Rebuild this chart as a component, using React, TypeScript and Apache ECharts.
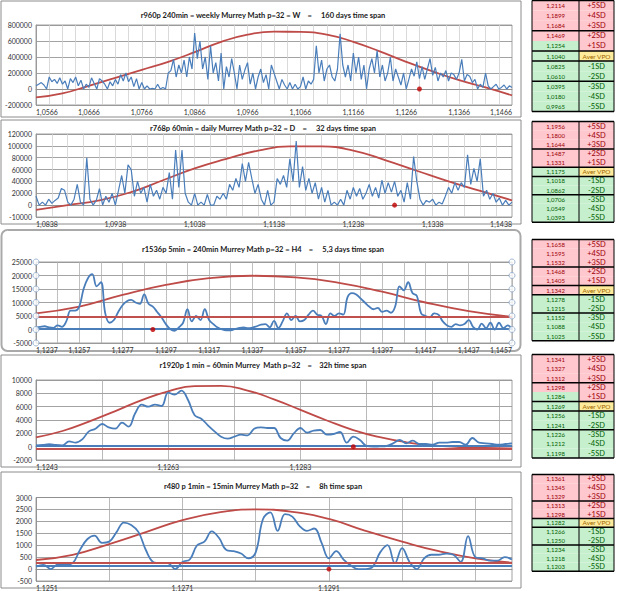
import React, { useEffect, useRef } from "react";
import * as echarts from "echarts";

// ---------- DATA ----------
const currentPrice = 1.1291;

const titles = [
  "r960p 240min = weekly Murrey Math p=32 = W    =     160 days time span",
  "r768p 60min = daily Murrey Math p=32 = D    =     32 days time span",
  "r1536p 5min = 240min Murrey Math p=32 = H4    =     5,3 days time span",
  "r1920p 1 min = 60min Murrey  Math p=32    =    32h time span",
  "r480 p 1min = 15min Murrey Math p=32    =     8h time span",
];

// price axis definitions (start price, step per point)
const start1 = 1.0566, step1 = 0.0005;
const start2 = 1.0838, step2 = 0.0004;
const start3 = 1.1237, step3 = 0.0002;
const start4 = 1.1243, step4 = 0.0001;
const start5 = 1.1251, step5 = 0.0001;

// chart 1 volume (thousands)
const vol1K = [40,60,80,50,0,150,90,120,70,140,60,100,0,130,80,
150,40,110,0,60,20,140,70,0,130,
100,60,0,90,40,
120,60,180,100,200,90,150,30,
130,0,80,0,40,0,10,0,60,0,20,0,
200,230,370,150,300,
200,360,150,400,250,700,380,
600,250,400,120,540,200,
330,100,450,0,280,150,380,200,0,300,120,240,
330,60,200,0,150,250,80,180,0,300,200,
100,0,120,50,0,80,0,60,0,30,
150,0,100,60,120,540,
200,360,100,250,300,150,
100,250,690,300,150,
300,100,450,200,400,120,300,0,250,380,200,480,150,
300,100,200,400,100,250,
150,50,200,0,120,250,160,340,130,280,
120,250,380,170,270,100,200,
150,230,100,200,180,120,200,370,100,180,160,
80,120,0,60,20,200,40,0,
30,60,0,20,50,0,40,20];
// bell curve, one value every 10 points (thousands)
const bell1K = [-105,-55,40,140,240,340,460,590,680,716,714,680,590,470,340,220,110,20,-80];

// chart 2 volume (thousands)
const vol2K = [15,0,5,0,10,3,8,12,28,25,
5,0,10,35,5,0,80,10,0,8,
28,0,15,5,20,0,25,50,20,68,
60,15,40,20,30,5,35,15,25,10,
30,20,55,10,93,30,93,20,5,0,
20,0,5,0,18,0,0,15,10,20,
10,35,25,45,30,70,40,72,45,20,
35,10,0,25,0,5,45,35,50,30,
78,40,108,30,65,25,45,20,38,10,
30,5,25,0,5,0,10,0,25,10,
30,15,28,10,20,35,15,30,12,42,
20,38,22,40,15,25,5,38,10,82,
40,10,0,8,5,10,0,5,2,15,
30,20,38,25,38,30,85,35,62,40,
78,15,25,10,20,5,12,0,8,0,5];
const bell2K = [-8,0,8,22,42,62,78,92,99,99,92,76,58,40,24,8];

// chart 3 volume
const vol3 = [700,1000,1200,800,600,1500,1000,3000,7000,7000,
8500,15000,19000,20500,16000,17500,6000,2500,3500,6500,
9000,10500,11000,10000,9500,13000,9500,8500,6500,4500,
2000,200,-500,800,2500,7500,3000,5000,3500,7500,
3500,2000,700,0,-300,-300,200,600,800,500,
700,1200,1800,2000,800,3200,600,3000,6000,3500,
5000,3000,3500,5500,7000,5500,5000,2000,6000,5000,
6000,5500,12000,13500,13000,11500,10000,8500,7500,8000,
6500,7000,6200,8500,16000,14500,17500,13500,12500,6000,
5000,4500,6000,5500,3000,1500,1000,2000,1500,2000,
3500,1000,0,2200,500,2500,0,2500,500,1500,
0];
const bell3 = [6000,8500,12800,16500,19000,19900,19300,17300,14000,10000,6800,4700];

// chart 4 volume
const vol4 = [200,250,380,250,200,800,600,1100,2300,2700,
3400,2900,2700,3600,3000,5000,6300,6000,6300,6100,
8100,7800,8400,7000,4700,4200,3200,2300,1500,1200,
1500,1800,1700,2700,2900,2800,2800,1300,900,2000,
2800,2100,2400,2500,1800,1900,2200,600,1500,1000,
100,0,50,100,500,1000,500,900,400,400,
300,600,600,700,700,300,1300,600,500,400,
300,400,500];
// one value every 4 points
const bell4 = [1400,2350,3760,5340,6990,8300,9080,9120,8420,7100,5520,3930,2490,1420,660,200,-50,-190,-260];

// chart 5 volume
const vol5 = [100,180,0,200,180,250,800,1250,1400,1100,
1150,1550,1950,1850,1550,800,300,250,250,0,
300,400,1000,1150,1580,1300,800,750,650,450,
700,2100,2380,1600,2300,2200,1800,1600,1700,1100,
450,750,400,150,0,0,100,700,1000,250,
880,300,0,450,600,600,650,600,300,1380,
500,450,350,350,500,400];
const bell5 = [380,600,1050,1550,2050,2380,2500,2400,2100,1600,1150,750,450,270];

// horizontal level lines
const levels3 = [{ value: 4600, color: "#c0504d" }, { value: 150, color: "#4a7ebb" }];
const levels4 = [{ value: 100, color: "#4a7ebb" }, { value: -300, color: "#c0504d" }];
const levels5 = [{ value: 250, color: "#c0504d" }, { value: 140, color: "#4a7ebb" }];

// SD tables
const sdLabels = ["+5SD","+4SD","+3SD","+2SD","+1SD","Aver VPO","-1SD","-2SD","-3SD","-4SD","-5SD"];
const table1 = [1.2114,1.1899,1.1684,1.1469,1.1254,1.1040,1.0825,1.0610,1.0395,1.0180,0.9965];
const table2 = [1.1956,1.1800,1.1644,1.1487,1.1331,1.1175,1.1018,1.0862,1.0706,1.0549,1.0393];
const table3 = [1.1658,1.1595,1.1532,1.1468,1.1405,1.1342,1.1278,1.1215,1.1152,1.1088,1.1025];
const table4 = [1.1341,1.1327,1.1312,1.1298,1.1284,1.1269,1.1256,1.1241,1.1226,1.1212,1.1198];
const table5 = [1.1361,1.1345,1.1329,1.1313,1.1298,1.1282,1.1266,1.1250,1.1234,1.1218,1.1203];

// ---------- LAYOUT / STYLE ----------
const FONT = "Lato";
const BLUE = "#4a7ebb";
const RED = "#be4b48";
const PINK = "#ffc7ce", GREEN = "#c6efce", YELLOW = "#ffeb9c";
const PINK_T = "#9c0006", GREEN_T = "#006100", YELLOW_T = "#9c6500";

const plotLeft = 36, plotWidth = 476;
const gridLayout = [
  { top: 25, height: 80, titleY: 15, frame: [1, 1, 520, 116] },
  { top: 134, height: 83, titleY: 128, frame: [1, 120, 520, 104] },
  { top: 262, height: 81, titleY: 249, frame: [1.5, 230, 519, 121] },
  { top: 380, height: 80, titleY: 365, frame: [1, 355, 520, 112] },
  { top: 497.5, height: 83.5, titleY: 486, frame: [1, 472, 520, 116] },
];
const tableX = [532, 579, 614];
const tableLayout = [
  { top: 0.5, h: 10.1 },
  { top: 121.5, h: 9.15 },
  { top: 239.5, h: 9.2 },
  { top: 354.5, h: 9.4 },
  { top: 474.5, h: 8.8 },
];

const fmtPrice = (v: number) => v.toFixed(4).replace(".", ",");

const panels = [
  { start: start1, step: step1, blue: vol1K.map((v) => v * 1000), bell: bell1K.map((v) => v * 1000), bellEvery: 10,
    yMin: -200000, yMax: 800000, yInt: 200000, labelEvery: 20, gridEvery: 5, smooth: false, levels: [] as any[],
    vGrid: "#d0d0d0", width: 1.2, handles: false },
  { start: start2, step: step2, blue: vol2K.map((v) => v * 1000), bell: bell2K.map((v) => v * 1000), bellEvery: 10,
    yMin: -20000, yMax: 120000, yInt: 20000, labelEvery: 25, gridEvery: 5, smooth: false, levels: [] as any[],
    vGrid: "#d0d0d0", width: 1.2, handles: false },
  { start: start3, step: step3, blue: vol3, bell: bell3, bellEvery: 10,
    yMin: -5000, yMax: 25000, yInt: 5000, labelEvery: 10, gridEvery: 5, smooth: 0.4, levels: levels3,
    vGrid: "#b0b0b0", width: 1.8, handles: true },
  { start: start4, step: step4, blue: vol4, bell: bell4, bellEvery: 4,
    yMin: -2000, yMax: 10000, yInt: 2000, labelEvery: 20, gridEvery: 10, smooth: 0.4, levels: levels4,
    vGrid: "#a8a8a8", width: 1.8, handles: false },
  { start: start5, step: step5, blue: vol5, bell: bell5, bellEvery: 5,
    yMin: -500, yMax: 3000, yInt: 500, labelEvery: 20, gridEvery: 10, smooth: 0.4, levels: levels5,
    vGrid: "#a8a8a8", width: 1.8, handles: false },
];
const tables = [table1, table2, table3, table4, table5];

function buildOption() {
  const grid: any[] = [], xAxis: any[] = [], yAxis: any[] = [], series: any[] = [], graphic: any[] = [];

  panels.forEach((p, k) => {
    const L = gridLayout[k];
    const n = p.blue.length;
    const cats = p.blue.map((_, i) => fmtPrice(p.start + i * p.step));
    const lastLabeled = (n - 1) % p.labelEvery === 0;

    grid.push({ left: plotLeft, width: plotWidth, top: L.top, height: L.height, show: true,
      borderColor: "#8c8c8c", borderWidth: 0.8, backgroundColor: "transparent" });
    xAxis.push({
      gridIndex: k, type: "category", boundaryGap: false, data: cats,
      axisLine: { onZero: true, lineStyle: { color: "#8c8c8c", width: 0.8 } },
      axisTick: { show: false },
      axisLabel: { interval: p.labelEvery - 1, fontSize: 7, color: "#333", margin: 3, fontFamily: FONT,
        alignMinLabel: "left", alignMaxLabel: "right", showMaxLabel: lastLabeled ? true : false, showMinLabel: true },
      splitLine: { show: true, interval: p.gridEvery - 1, lineStyle: { color: p.vGrid, width: 0.8 } },
    });
    yAxis.push({
      gridIndex: k, type: "value", min: p.yMin, max: p.yMax, interval: p.yInt,
      axisLine: { show: true, lineStyle: { color: "#8c8c8c", width: 0.8 } },
      axisTick: { show: false },
      axisLabel: { fontSize: 7, color: "#333", margin: 4, fontFamily: FONT,
        formatter: (v: number) => (k === 1 && v === p.yMin ? "-10000" : String(v)) },
      splitLine: { show: true, lineStyle: { color: "#8c8c8c", width: 0.8 } },
    });

    series.push({
      type: "line", xAxisIndex: k, yAxisIndex: k, data: p.bell.map((v, j) => [j * p.bellEvery, v]),
      smooth: true, showSymbol: false, lineStyle: { color: RED, width: 1.8 }, z: 2, silent: true,
      markLine: p.levels.length ? {
        silent: true, symbol: "none", label: { show: false },
        data: p.levels.map((l: any) => ({ yAxis: l.value, lineStyle: { color: l.color, width: 2, type: "solid" } })),
      } : undefined,
    });
    series.push({
      type: "line", xAxisIndex: k, yAxisIndex: k, data: p.blue, smooth: p.smooth, showSymbol: false,
      lineStyle: { color: BLUE, width: p.width }, z: 3, silent: true,
    });
    series.push({
      type: "scatter", xAxisIndex: k, yAxisIndex: k,
      data: [[Math.round((currentPrice - p.start) / p.step), 0]],
      symbolSize: 5, itemStyle: { color: "#c00000" }, z: 6, silent: true,
    });
    if (p.handles) {
      const ticks: number[] = [];
      for (let v = p.yMin; v <= p.yMax; v += p.yInt) ticks.push(v);
      const pts: number[][] = [];
      ticks.forEach((v) => { pts.push([0, v]); pts.push([n - 1, v]); });
      series.push({
        type: "scatter", xAxisIndex: k, yAxisIndex: k, data: pts, symbolSize: 6, clip: false,
        itemStyle: { color: "#ffffff", borderColor: "#8aa6c8", borderWidth: 1 }, z: 7, silent: true,
      });
    }

    // frame & title
    const [fx, fy, fw, fh] = L.frame;
    graphic.push({ type: "rect", shape: { x: fx, y: fy, width: fw, height: fh, r: k === 2 ? 6 : 0 },
      style: { fill: "none", stroke: k === 2 ? "#a9a9a9" : "#8c8c8c", lineWidth: k === 2 ? 2 : 1 }, z: 0, silent: true });
    graphic.push({ type: "text", x: 263, y: L.titleY, style: { text: titles[k], fill: "#1a1a1a",
      fontSize: 7.5, fontWeight: "bold", fontFamily: FONT, align: "center", verticalAlign: "middle",
      textAlign: "center", textVerticalAlign: "middle" }, z: 10, silent: true });
  });

  // tables
  tables.forEach((vals, t) => {
    const T = tableLayout[t];
    vals.forEach((v, r) => {
      const y = T.top + r * T.h;
      const vFill = v > currentPrice ? PINK : GREEN;
      const vText = v > currentPrice ? PINK_T : GREEN_T;
      const lFill = r < 5 ? PINK : r === 5 ? YELLOW : GREEN;
      const lText = r < 5 ? PINK_T : r === 5 ? YELLOW_T : GREEN_T;
      graphic.push({ type: "rect", shape: { x: tableX[0], y, width: tableX[1] - tableX[0], height: T.h },
        style: { fill: vFill }, z: 1, silent: true });
      graphic.push({ type: "rect", shape: { x: tableX[1], y, width: tableX[2] - tableX[1], height: T.h },
        style: { fill: lFill }, z: 1, silent: true });
      graphic.push({ type: "text", x: (tableX[0] + tableX[1]) / 2, y: y + T.h / 2,
        style: { text: fmtPrice(v), fill: vText, fontSize: 6, fontFamily: FONT, align: "center", verticalAlign: "middle",
          textAlign: "center", textVerticalAlign: "middle" }, z: 3, silent: true });
      graphic.push({ type: "text", x: (tableX[1] + tableX[2]) / 2, y: y + T.h / 2,
        style: { text: sdLabels[r], fill: lText, fontSize: r === 5 ? 6.5 : 7.5, fontFamily: FONT, align: "center",
          verticalAlign: "middle", textAlign: "center", textVerticalAlign: "middle" }, z: 3, silent: true });
    });
    const bottom = T.top + vals.length * T.h;
    tableX.forEach((x) => graphic.push({ type: "line", shape: { x1: x, y1: T.top, x2: x, y2: bottom },
      style: { stroke: "#000", lineWidth: 1 }, z: 4, silent: true }));
    [0, 3, 5, 6, 8, vals.length].forEach((r) => {
      const y = T.top + r * T.h;
      graphic.push({ type: "line", shape: { x1: tableX[0], y1: y, x2: tableX[2], y2: y },
        style: { stroke: "#000", lineWidth: 1.5 }, z: 4, silent: true });
    });
  });

  return {
    animation: false,
    backgroundColor: "#ffffff",
    textStyle: { fontFamily: FONT },
    grid, xAxis, yAxis, series, graphic,
  };
}

export default function App() {
  const ref = useRef<HTMLDivElement>(null);
  useEffect(() => {
    document.body.style.margin = "0";
    const chart = echarts.init(ref.current!, null, { renderer: "svg" });
    chart.setOption(buildOption() as any);
    return () => chart.dispose();
  }, []);
  return <div ref={ref} style={{ width: 625, height: 591 }} />;
}
